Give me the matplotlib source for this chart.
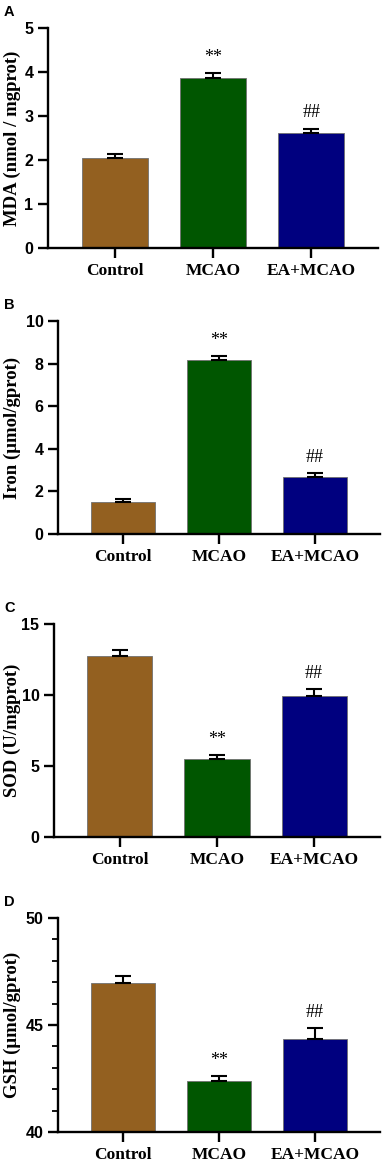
import matplotlib
matplotlib.use("Agg")
import matplotlib.pyplot as plt
from matplotlib.ticker import MultipleLocator

groups = ["Control", "MCAO", "EA+MCAO"]
colors = ["#936020", "#005600", "#00007f"]

mda = [2.04, 3.87, 2.62]
mda_err = [0.09, 0.10, 0.09]
iron = [1.50, 8.15, 2.68]
iron_err = [0.13, 0.19, 0.18]
sod = [12.73, 5.48, 9.95]
sod_err = [0.42, 0.28, 0.46]
gsh = [46.95, 42.37, 44.36]
gsh_err = [0.35, 0.24, 0.50]

marks = ["", "**", "##"]

panels = [
    ("A", mda, mda_err, "MDA (nmol / mgprot)", (0, 5), 1, None, [48, 378, 28, 248]),
    ("B", iron, iron_err, "Iron (\u03bcmol/gprot)", (0, 10), 2, None, [58, 380, 321, 534]),
    ("C", sod, sod_err, "SOD (U/mgprot)", (0, 15), 5, None, [54, 380, 624, 837]),
    ("D", gsh, gsh_err, "GSH (\u03bcmol/gprot)", (40, 50), 5, 1, [58, 380, 918, 1132]),
]

W, H = 383, 1162
fig = plt.figure(figsize=(W / 100, H / 100), dpi=100)

for letter, vals, errs, ylab, ylim, major, minor, box in panels:
    l, r, t, b = box
    ax = fig.add_axes([l / W, 1 - b / H, (r - l) / W, (b - t) / H])
    x = range(len(groups))
    ax.bar(x, vals, width=0.67, color=colors, edgecolor="#707070", linewidth=0.6, zorder=2)
    ax.errorbar(x, vals, yerr=[[0] * 3, errs], fmt="none", ecolor="black",
                elinewidth=1.5, capsize=5.5, capthick=1.5, zorder=3)
    span = ylim[1] - ylim[0]
    for i in x:
        if marks[i]:
            ax.text(i, vals[i] + errs[i] + span * 0.035, marks[i], ha="center", va="bottom",
                    fontsize=13, family="Liberation Serif")
    ax.set_xlim(-0.68, 2.68)
    ax.set_ylim(*ylim)
    ax.yaxis.set_major_locator(MultipleLocator(major))
    if minor:
        ax.yaxis.set_minor_locator(MultipleLocator(minor))
    ax.spines["top"].set_visible(False)
    ax.spines["right"].set_visible(False)
    ax.spines["left"].set_linewidth(1.7)
    ax.spines["bottom"].set_linewidth(1.7)
    ax.tick_params(axis="both", which="major", width=1.7, length=7)
    ax.tick_params(axis="y", which="minor", width=1.3, length=4)
    ax.set_xticks(list(x))
    ax.set_xticklabels(groups, family="Liberation Serif", fontweight="bold", fontsize=12.5)
    for lab in ax.get_yticklabels():
        lab.set_family("Liberation Sans")
        lab.set_fontweight("bold")
        lab.set_fontsize(11.5)
    # y label placed as figure text so it sits at the far left like the original
    fig.text(12 / W, 1 - (t + b) / 2 / H, ylab, rotation=90, ha="center", va="center",
             family="Liberation Serif", fontweight="bold", fontsize=13.5)
    fig.text(4 / W, 1 - (t - 16) / H, letter, family="Liberation Sans", fontweight="bold",
             fontsize=10.5, va="center", ha="left")

fig.savefig("out.png", dpi=100)
